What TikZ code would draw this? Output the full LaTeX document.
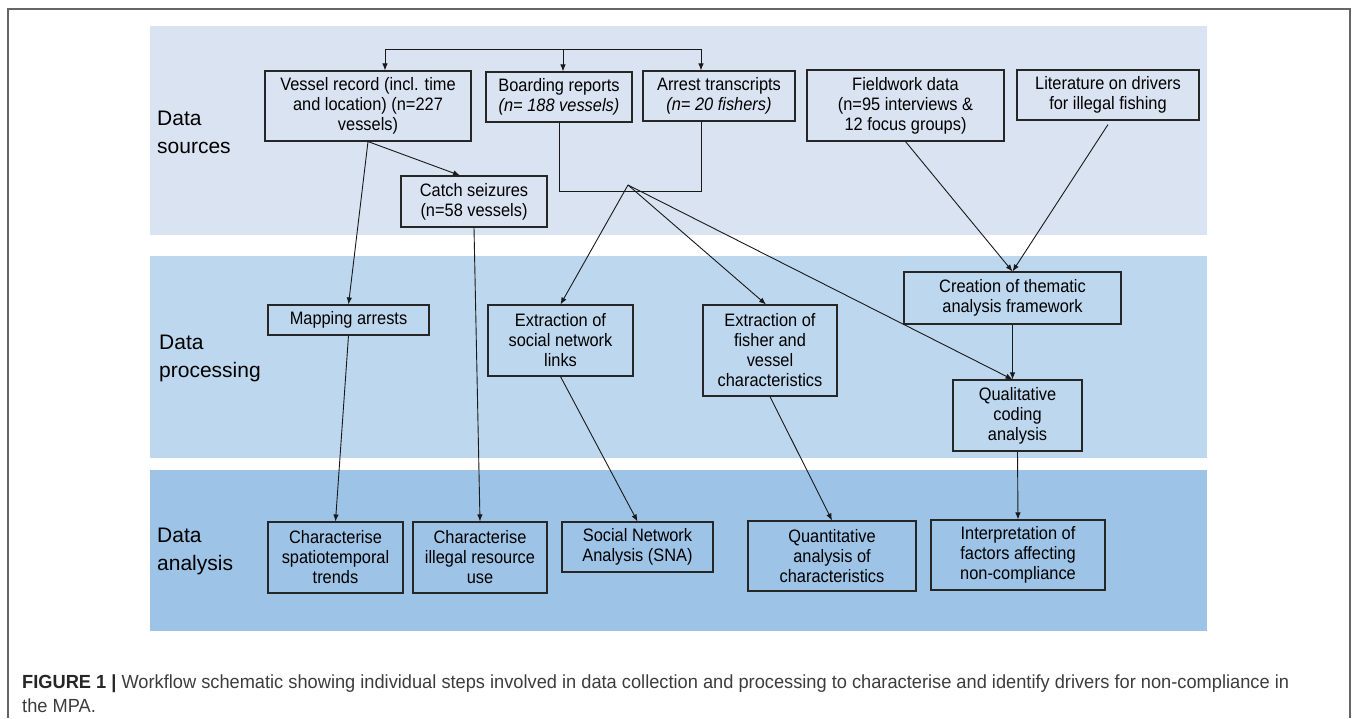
\documentclass[tikz,border=0pt]{standalone}
\usepackage{fontspec}
\setmainfont{Liberation Sans}
\newfontfamily\boxfont[FakeStretch=0.91]{Liberation Sans}
\newfontfamily\capfont[FakeStretch=0.96]{Liberation Sans}
\usetikzlibrary{arrows.meta,calc}
\definecolor{bandA}{RGB}{218,227,242}
\definecolor{bandB}{RGB}{189,215,238}
\definecolor{bandC}{RGB}{157,195,230}
\definecolor{capgray}{RGB}{60,60,60}
\tikzset{
  box/.style={draw=black!85, line width=1.1pt, inner sep=0pt, align=center,
    font=\boxfont\fontsize{18}{20}\selectfont},
  lbl/.style={anchor=west, align=left, inner sep=0pt,
    font=\fontsize{21}{28}\selectfont},
  arr/.style={draw=black!90, line width=0.9pt, -{Latex[length=7pt,width=5.5pt]}},
  ln/.style={draw=black!90, line width=0.9pt},
}
\begin{document}
\begin{tikzpicture}[x=1pt,y=-1pt]
\useasboundingbox (0,0) rectangle (1358,718);
% frame
\draw[black!60, line width=1.3pt] (8,718) -- (8,9) -- (1350,9) -- (1350,718);
% bands
\fill[bandA] (150,26) rectangle (1207,235);
\fill[bandB] (150,256) rectangle (1207,458);
\fill[bandC] (150,470) rectangle (1207,631);
% band labels
\node[lbl] (lsrc) at (157,132) {Data\\sources};
\node[lbl] (lproc) at (159,358) {Data\\processing};
\node[lbl] (lana) at (157,551) {Data\\analysis};
% boxes: data sources
\node[box, minimum width=206pt, minimum height=70pt] (vr) at (368,106) {Vessel record (incl. time\\and location) (n=227\\vessels)};
\node[box, minimum width=146pt, minimum height=50pt] (br) at (559,97) {Boarding reports\\\textit{(n= 188 vessels)}};
\node[box, minimum width=152pt, minimum height=50pt] (at) at (719,96) {Arrest transcripts\\\textit{(n= 20 fishers)}};
\node[box, minimum width=197pt, minimum height=71pt] (fw) at (905.5,105.5) {Fieldwork data\\(n=95 interviews \&\\12 focus groups)};
\node[box, minimum width=182pt, minimum height=50pt] (lit) at (1108,95) {Literature on drivers\\for illegal fishing};
\node[box, minimum width=146pt, minimum height=51pt] (cs) at (474,201.5) {Catch seizures\\(n=58 vessels)};
% processing
\node[box, minimum width=161pt, minimum height=30pt] (ma) at (348.5,320) {Mapping arrests};
\node[box, minimum width=145pt, minimum height=71pt] (es) at (560.5,340.5) {Extraction of\\social network\\links};
\node[box, minimum width=134pt, minimum height=91pt] (ef) at (770,350.5) {Extraction of\\fisher and\\vessel\\characteristics};
\node[box, minimum width=217pt, minimum height=52pt] (ct) at (1012.5,298) {Creation of thematic\\analysis framework};
\node[box, minimum width=129pt, minimum height=71pt] (qc) at (1017.5,415.5) {Qualitative\\coding\\analysis};
% analysis
\node[box, minimum width=135pt, minimum height=71pt] (sp) at (335.5,557.5) {Characterise\\spatiotemporal\\trends};
\node[box, minimum width=134pt, minimum height=71pt] (il) at (480,557.5) {Characterise\\illegal resource\\use};
\node[box, minimum width=151pt, minimum height=50pt] (sna) at (637.5,547) {Social Network\\Analysis (SNA)};
\node[box, minimum width=168pt, minimum height=70pt] (qa) at (832,556) {Quantitative\\analysis of\\characteristics};
\node[box, minimum width=174pt, minimum height=70pt] (ip) at (1018,555) {Interpretation of\\factors affecting\\non-compliance};
% top distribution bracket
\coordinate (tl) at (385,49);
\coordinate (tm) at (563,49);
\coordinate (tr) at (701,49);
\draw[ln] (tl) -- (tr);
\draw[arr] (tl) -- (tl |- vr.north);
\draw[arr] (tm) -- (tm |- br.north);
\draw[arr] (tr) -- (tr |- at.north);
% merge bracket
\coordinate (mr) at (701,191);
\draw[ln] (br.south) |- (mr) -- (mr |- at.south);
\coordinate (j) at (628,185);
\draw[arr] (j) -- (es.north);
\draw[arr] (j) -- ($(ef.north)+(-4,0)$);
\draw[arr] (j) -- (qc.north -| ct.south);
% vessel record
\draw[arr] (vr.south) -- ($(cs.north)+(-14,0)$);
\draw[arr] (vr.south) -- (ma.north);
\draw[arr] (cs.south) -- (il.north);
\draw[arr] (ma.south) -- (sp.north);
\draw[arr] (es.south) -- (sna.north);
\draw[arr] (ef.south) -- (qa.north);
\draw[arr] (fw.south) -- (ct.north);
\draw[arr] ($(lit.south)+(0,4)$) -- (ct.north);
\draw[arr] (ct.south) -- (ct.south |- qc.north);
\draw[arr] (qc.south) -- (ip.north);
% caption
\node[anchor=base west, inner sep=0pt, text=capgray, font=\capfont\fontsize{19}{22}\selectfont] (cap1) at (22,688) {\textbf{\color{black!85}FIGURE 1 |} Workflow schematic showing individual steps involved in data collection and processing to characterise and identify drivers for non-compliance in};
\node[anchor=base west, inner sep=0pt, text=capgray, font=\capfont\fontsize{19}{22}\selectfont] (cap2) at (22,712) {the MPA.};
\end{tikzpicture}
\end{document}
